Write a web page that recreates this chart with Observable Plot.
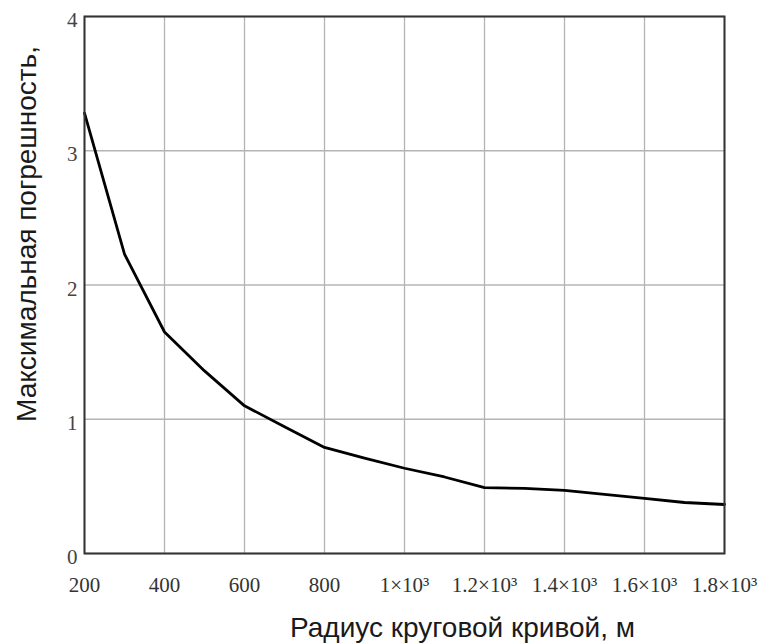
<!DOCTYPE html>
<html>
<head>
<meta charset="utf-8">
<script src="https://cdn.jsdelivr.net/npm/d3@7"></script>
<script src="https://cdn.jsdelivr.net/npm/@observablehq/plot@0.6"></script>
<style>
  html, body { margin: 0; padding: 0; background: #fff; }
</style>
</head>
<body>
<div id="chart"></div>
<script>
// Radius of circular curve, m
const radius = [200, 300, 400, 500, 600, 700, 800, 900, 1000, 1100, 1200, 1300, 1400, 1500, 1600, 1700, 1800];
// Maximum error
const maxError = [3.28, 2.23, 1.65, 1.36, 1.10, 0.945, 0.79, 0.71, 0.635, 0.57, 0.49, 0.485, 0.47, 0.44, 0.41, 0.38, 0.365];

const xTicks = [200, 400, 600, 800, 1000, 1200, 1400, 1600, 1800];
const yTicks = [0, 1, 2, 3, 4];
const xTitle = "Радиус круговой кривой, м";
const yTitle = "Максимальная погрешность,";

const data = radius.map((r, i) => ({r, e: maxError[i]}));
const fmtX = d => d < 1000 ? String(d) : `${d / 1000}×10³`;
const fmtY = d => String(d);

const serif = "'Liberation Serif', 'Times New Roman', serif";
const sans = "'Liberation Sans', Arial, sans-serif";

const chart = Plot.plot({
  width: 766,
  height: 644,
  marginLeft: 84,
  marginRight: 42,
  marginTop: 16,
  marginBottom: 91,
  style: {fontFamily: serif, fontSize: "21px", color: "#333", background: "#fff"},
  x: {domain: [200, 1800]},
  y: {domain: [0, 4]},
  marks: [
    Plot.gridX(xTicks, {stroke: "#b4b4b4", strokeOpacity: 1, strokeWidth: 1.3}),
    Plot.gridY(yTicks, {stroke: "#b4b4b4", strokeOpacity: 1, strokeWidth: 1.3}),
    Plot.axisX(xTicks, {tickSize: 0, tickPadding: 24, tickFormat: fmtX, label: null, fontSize: 21, fill: "#333"}),
    Plot.axisY(yTicks, {tickSize: 0, tickPadding: 7, tickFormat: fmtY, label: null, dy: 4, fontSize: 21, fill: "#444"}),
    Plot.line(data, {x: "r", y: "e", stroke: "#000", strokeWidth: 2.8}),
    Plot.frame({stroke: "#333", strokeWidth: 2}),
    Plot.text([xTitle], {text: d => d, frameAnchor: "bottom", textAnchor: "middle", lineAnchor: "middle", dx: 58, dy: 75, fontSize: 28, fontFamily: sans, fill: "#1a1a1a", ariaLabel: "xtitle"}),
    Plot.text([yTitle], {text: d => d, frameAnchor: "left", textAnchor: "middle", lineAnchor: "middle", rotate: -90, dx: -57, dy: -51, fontSize: 28, fontFamily: sans, fill: "#1a1a1a", ariaLabel: "ytitle"})
  ]
});

document.getElementById("chart").appendChild(chart);
d3.select(chart).select('g[aria-label="xtitle"] text').attr("textLength", 381).attr("lengthAdjust", "spacingAndGlyphs");
d3.select(chart).select('g[aria-label="ytitle"] text').attr("textLength", 403).attr("lengthAdjust", "spacingAndGlyphs");
</script>
</body>
</html>
